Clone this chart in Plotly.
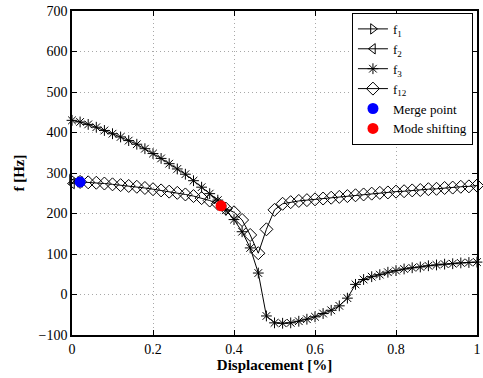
import plotly.graph_objects as go

# ---- data ----
disp = [0.00, 0.02, 0.04, 0.06, 0.08, 0.10, 0.12, 0.14, 0.16, 0.18,
        0.20, 0.22, 0.24, 0.26, 0.28, 0.30, 0.32, 0.34, 0.36, 0.38,
        0.40, 0.42, 0.44, 0.46, 0.48, 0.50, 0.52, 0.54, 0.56, 0.58,
        0.60, 0.62, 0.64, 0.66, 0.68, 0.70, 0.72, 0.74, 0.76, 0.78,
        0.80, 0.82, 0.84, 0.86, 0.88, 0.90, 0.92, 0.94, 0.96, 0.98, 1.00]

f1_x = [0.00, 0.02]
f1_y = [284, 278]
f2_x = [0.00, 0.02]
f2_y = [274, 278]

f3_y = [430, 426, 420, 413, 405, 397, 389, 380, 371, 360,
        348, 336, 323, 310, 297, 281, 265, 249, 233, 208,
        185, 155, 115, 53, -53, -70, -71, -70, -66, -61,
        -55, -47, -39, -28, -9, 25, 37, 44, 49, 55,
        59, 63, 66, 68, 71, 73, 75, 76, 78, 79, 80]

f12_x = disp[1:]
f12_y = [278, 277, 276, 274, 272, 270, 268, 266, 263,
         260, 257, 254, 251, 247, 243, 238, 232, 224, 212,
         203, 184, 147, 102, 161, 209, 224, 228, 231, 233,
         235, 237, 239, 241, 243, 245, 247, 249, 251, 252,
         254, 255, 257, 258, 260, 261, 263, 264, 266, 267, 269]

merge_x = [0.02]
merge_y = [278]
shift_x = [0.368]
shift_y = [219]

x_ticks = [0, 0.2, 0.4, 0.6, 0.8, 1]
x_tick_text = ["0", "0.2", "0.4", "0.6", "0.8", "1"]
y_ticks = [-100, 0, 100, 200, 300, 400, 500, 600, 700]

FONT = "'Liberation Serif', 'Times New Roman', Times, serif"

fig = go.Figure()
line = dict(color="black", width=1)
fig.add_trace(go.Scatter(x=f1_x, y=f1_y, mode="lines+markers", name="f<sub>1</sub>",
                         line=line, cliponaxis=False,
                         marker=dict(symbol="triangle-right-open", size=9, color="black",
                                     line=dict(width=1, color="black"))))
fig.add_trace(go.Scatter(x=f2_x, y=f2_y, mode="lines+markers", name="f<sub>2</sub>",
                         line=line, cliponaxis=False,
                         marker=dict(symbol="triangle-left-open", size=9, color="black",
                                     line=dict(width=1, color="black"))))
fig.add_trace(go.Scatter(x=disp, y=f3_y, mode="lines+markers", name="f<sub>3</sub>",
                         line=line, cliponaxis=False,
                         marker=dict(symbol="asterisk-open", size=9, color="black",
                                     line=dict(width=1, color="black"))))
fig.add_trace(go.Scatter(x=f12_x, y=f12_y, mode="lines+markers", name="f<sub>12</sub>",
                         line=line, cliponaxis=False,
                         marker=dict(symbol="diamond-open", size=10, color="black",
                                     line=dict(width=1, color="black"))))
fig.add_trace(go.Scatter(x=merge_x, y=merge_y, mode="markers", name="Merge point",
                         cliponaxis=False,
                         marker=dict(symbol="circle", size=11, color="#0000ff")))
fig.add_trace(go.Scatter(x=shift_x, y=shift_y, mode="markers", name="Mode shifting",
                         cliponaxis=False,
                         marker=dict(symbol="circle", size=11, color="#ff0000")))

axis_common = dict(
    showline=True, linecolor="black", linewidth=1.5, mirror="allticks",
    ticks="inside", ticklen=5, tickcolor="black", tickwidth=1,
    showgrid=True, gridcolor="#a8a8a8", griddash="1px,3px", gridwidth=1,
    zeroline=False, tickfont=dict(family=FONT, size=14, color="black"),
    ticklabeloverflow="allow",
)

fig.update_layout(
    width=483, height=378,
    margin=dict(l=72, r=2, t=11, b=43),
    paper_bgcolor="white", plot_bgcolor="white",
    font=dict(family=FONT, color="black"),
    showlegend=True,
    legend=dict(x=0.99, y=0.994, xanchor="right", yanchor="top",
                bgcolor="white", bordercolor="black", borderwidth=1,
                font=dict(family=FONT, size=13, color="black"),
                itemwidth=30, tracegroupgap=0),
    xaxis=dict(range=[0, 1], tickvals=x_ticks, ticktext=x_tick_text,
               title=dict(text="<b>Displacement [%]</b>", standoff=2,
                          font=dict(family=FONT, size=15, color="black")),
               **axis_common),
    yaxis=dict(range=[-100, 700], tickvals=y_ticks,
               title=dict(text="<b>f [Hz]</b>", standoff=10,
                          font=dict(family=FONT, size=15, color="black")),
               **axis_common),
)

fig.write_html("out.html")
